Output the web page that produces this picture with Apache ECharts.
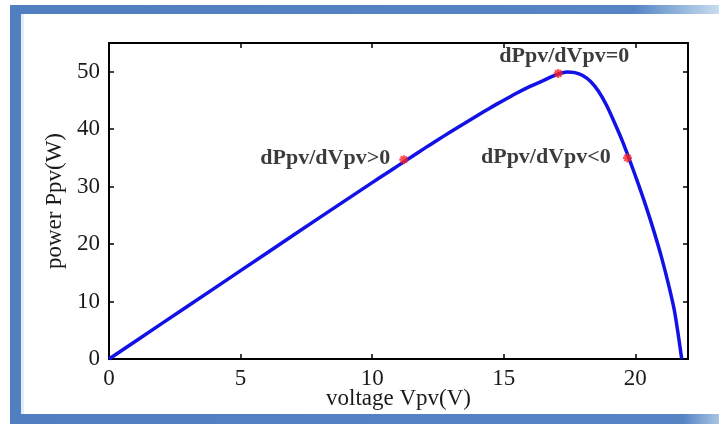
<!DOCTYPE html>
<html>
<head>
<meta charset="utf-8">
<script src="https://cdn.jsdelivr.net/npm/echarts@6/dist/echarts.min.js"></script>
<style>
html,body{margin:0;padding:0;background:#fff;}
#c{width:719px;height:426px;}
</style>
</head>
<body>
<div id="c"></div>
<script>
// P-V curve samples
const voltage = [0, 2, 4, 6, 8, 10, 10.5, 11, 11.5, 12, 12.5, 13, 13.5, 14, 14.5, 15, 15.5, 16, 16.5, 16.8, 17.1, 17.4, 17.7, 18.0, 18.3, 18.6, 18.9, 19.2, 19.5, 19.8, 20.1, 20.4, 20.7, 21.0, 21.3, 21.5, 21.76];
const power   = [0, 6.15, 12.3, 18.45, 24.6, 30.7, 32.2, 33.7, 35.2, 36.7, 38.15, 39.6, 41.0, 42.4, 43.75, 45.05, 46.3, 47.45, 48.45, 49.1, 49.65, 49.95, 49.85, 49.35, 48.3, 46.6, 44.2, 41.2, 38.0, 34.4, 30.6, 26.6, 22.3, 17.6, 12.2, 8.0, 0];
// highlighted operating points
const markerV = [11.2, 17.07, 19.7];
const markerP = [34.7, 49.7, 35.0];
const markerText = ['dPpv/dVpv>0', 'dPpv/dVpv=0', 'dPpv/dVpv<0'];
const xTicks = [0, 5, 10, 15, 20];
const yTicks = [0, 10, 20, 30, 40, 50];

const chart = echarts.init(document.getElementById('c'), null, {renderer: 'canvas'});
const serif = 'Liberation Serif, Times New Roman, serif';
const labelPos = [
  {position: 'left', distance: 8, offset: [0, -1]},
  {position: 'top', distance: 1, offset: [6, 0]},
  {position: 'left', distance: 11, offset: [0, -1]}
];
const markerData = markerV.map((v, i) => ({
  value: [v, markerP[i]],
  label: Object.assign({show: true, formatter: markerText[i], color: '#0a0a0a', fontFamily: serif, fontSize: 22, fontWeight: 'bold'}, labelPos[i])
}));

const axisCommon = {
  type: 'value',
  axisLine: {show: true, onZero: false, lineStyle: {color: '#000', width: 2}},
  axisTick: {show: true, inside: true, length: 5, lineStyle: {color: '#000', width: 1.5}},
  splitLine: {show: false}
};

chart.setOption({
  animation: false,
  backgroundColor: '#fff',
  grid: {left: 109, right: 31, top: 43, bottom: 67},
  graphic: [
    {type: 'rect', shape: {x: 10, y: 5, width: 11, height: 418}, style: {fill: '#4f7fc0'}, z: 100},
    {type: 'rect', shape: {x: 10, y: 5, width: 709, height: 9},
     style: {fill: new echarts.graphic.LinearGradient(0, 0, 1, 0, [
       {offset: 0, color: '#4f7fc0'}, {offset: 0.88, color: '#5585c4'}, {offset: 1, color: '#c8ddf0'}])}, z: 100},
    {type: 'rect', shape: {x: 10, y: 414, width: 709, height: 10},
     style: {fill: new echarts.graphic.LinearGradient(0, 0, 1, 0, [
       {offset: 0, color: '#4f7fc0'}, {offset: 0.95, color: '#5585c4'}, {offset: 1, color: '#a8c4e4'}])}, z: 100},
    {type: 'rect', shape: {x: 21, y: 14, width: 3, height: 400}, style: {fill: '#e4ecf6'}, z: 99}
  ],
  xAxis: [
    Object.assign({}, axisCommon, {
      position: 'bottom', min: 0, max: 22, interval: 5,
      axisLabel: {show: true, color: '#1a1a1a', fontFamily: serif, fontSize: 23, margin: 8,
        customValues: xTicks, formatter: v => String(v)},
      axisTick: Object.assign({}, axisCommon.axisTick, {customValues: xTicks}),
      name: 'voltage Vpv(V)', nameLocation: 'middle', nameGap: 28, nameMoveOverlap: false,
      nameTextStyle: {color: '#1a1a1a', fontFamily: serif, fontSize: 23}
    }),
    Object.assign({}, axisCommon, {
      position: 'top', min: 0, max: 22, interval: 5,
      axisLabel: {show: false},
      axisTick: Object.assign({}, axisCommon.axisTick, {customValues: xTicks})
    })
  ],
  yAxis: [
    Object.assign({}, axisCommon, {
      position: 'left', min: 0, max: 55, interval: 10,
      axisLabel: {show: true, color: '#1a1a1a', fontFamily: serif, fontSize: 23, margin: 9,
        customValues: yTicks, formatter: v => String(v)},
      axisTick: Object.assign({}, axisCommon.axisTick, {customValues: yTicks}),
      name: 'power Ppv(W)', nameLocation: 'middle', nameGap: 43,
      nameTextStyle: {color: '#1a1a1a', fontFamily: serif, fontSize: 23}
    }),
    Object.assign({}, axisCommon, {
      position: 'right', min: 0, max: 55, interval: 10,
      axisLabel: {show: false},
      axisTick: Object.assign({}, axisCommon.axisTick, {customValues: yTicks})
    })
  ],
  series: [
    {
      type: 'line',
      data: voltage.map((v, i) => [v, power[i]]),
      smooth: 0.3,
      showSymbol: false,
      lineStyle: {color: '#1212e6', width: 3.5},
      z: 2
    },
    {
      type: 'scatter',
      data: markerData,
      symbol: 'path://M0,-10L0,10M-10,0L10,0M-7,-7L7,7M-7,7L7,-7',
      symbolSize: 9,
      itemStyle: {color: 'rgba(0,0,0,0)', borderColor: '#ff2020', borderWidth: 2.2},
      z: 3
    }
  ]
});
</script>
</body>
</html>
